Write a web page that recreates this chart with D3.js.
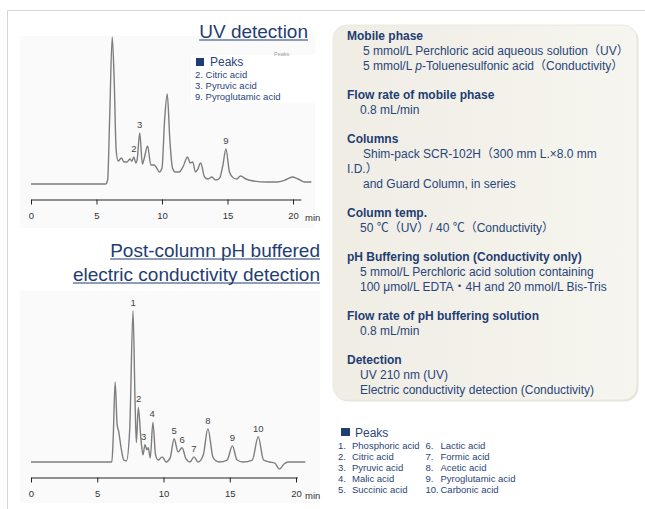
<!DOCTYPE html>
<html><head><meta charset="utf-8">
<script src="https://cdn.jsdelivr.net/npm/d3@7"></script>
<style>
html,body{margin:0;padding:0;background:#fff;}
svg{display:block;font-family:"Liberation Sans",Arial,"Noto Sans CJK JP",sans-serif;}
</style></head>
<body>
<svg id="c" width="645" height="509"></svg>
<script>
// ---------- DATA ----------
const xTicks = [0, 5, 10, 15, 20];

// UV detection trace (time in min, relative signal)
const uvTime   = [0, 5.7, 5.85, 6.0, 6.2, 6.35, 6.5, 6.65, 6.9, 7.1, 7.35, 7.55, 7.7, 7.85, 8.0, 8.1, 8.3, 8.5, 8.65, 8.9, 9.15, 9.4, 9.55, 9.8, 10.0, 10.2, 10.4, 10.6, 10.8, 11.0, 11.3, 11.6, 11.95, 12.15, 12.35, 12.55, 12.7, 12.95, 13.25, 13.5, 13.8, 14.1, 14.4, 14.65, 14.88, 15.15, 15.45, 15.7, 16.0, 16.4, 17.0, 18.0, 18.8, 19.4, 19.95, 20.4, 20.9, 21.4];
const uvSignal = [0, 0, 2.7, 43.5, 100, 70.7, 23.1, 15.6, 17.7, 15.0, 15.0, 17.0, 15.6, 18.4, 14.3, 16.3, 34.7, 13.6, 17.7, 25.9, 12.9, 12.9, 11.6, 8.2, 10.9, 43.5, 61.2, 29.9, 10.9, 8.2, 8.2, 11.6, 18.4, 14.3, 15.0, 8.2, 9.5, 14.3, 4.8, 3.4, 4.8, 2.7, 4.1, 12.9, 23.8, 8.2, 4.1, 3.4, 5.4, 3.4, 2.0, 1.4, 1.4, 2.7, 4.8, 3.4, 1.4, 1.4];
const uvPeakLabels = ["2", "3", "9"];
const uvPeakTime   = [7.85, 8.3, 14.88];
const uvPeakSignal = [18.4, 34.7, 23.8];

// Conductivity trace
const cdTime   = [0, 6.1, 6.2, 6.35, 6.5, 6.62, 6.8, 7.0, 7.2, 7.45, 7.7, 7.85, 7.95, 8.1, 8.3, 8.45, 8.6, 8.75, 8.85, 9.0, 9.2, 9.4, 9.6, 9.9, 10.2, 10.5, 10.8, 11.1, 11.4, 11.7, 12.0, 12.3, 12.6, 13.0, 13.35, 13.75, 14.2, 14.8, 15.2, 15.55, 16.0, 16.7, 17.15, 17.55, 18.0, 18.4, 18.75, 19.1, 19.4, 20.7];
const cdSignal = [0, 0, 14.8, 53.0, 24.8, 20.1, 9.4, 1.3, 0.7, 21.5, 100, 41.6, 12.8, 36.2, 14.8, 4.7, 11.4, 8.1, 9.4, 2.7, 26.2, 4.7, 1.3, 3.4, 0, 2.7, 15.4, 6.7, 9.4, 2.0, 0, 3.4, 0, 4.7, 22.1, 2.7, 0, 1.3, 10.7, 1.3, 0, 1.3, 16.8, 1.3, 0, -0.7, -4.7, -1.3, 0, 0];
const cdPeakLabels = ["1", "2", "3", "4", "5", "6", "7", "8", "9", "10"];
const cdPeakTime   = [7.7, 8.13, 8.5, 9.15, 10.8, 11.4, 12.3, 13.35, 15.2, 17.15];
const cdPeakSignal = [100, 36.2, 11.4, 26.2, 15.4, 9.4, 3.4, 22.1, 10.7, 16.8];

// Legends
const uvLegendItems = ["2. Citric acid", "3. Pyruvic acid", "9. Pyroglutamic acid"];
const cdLegendNums  = ["1.", "2.", "3.", "4.", "5.", "6.", "7.", "8.", "9.", "10."];
const cdLegendNames = ["Phosphoric acid", "Citric acid", "Pyruvic acid", "Malic acid", "Succinic acid",
                       "Lactic acid", "Formic acid", "Acetic acid", "Pyroglutamic acid", "Carbonic acid"];

// Conditions panel: [heading, lines...]
const conditions = [
  {h: "Mobile phase", lines: [
    {t: [["5 mmol/L Perchloric acid aqueous solution（UV）"]], ind: 16},
    {t: [["5 mmol/L "], ["p", "italic"], ["-Toluenesulfonic acid（Conductivity）"]], ind: 16}]},
  {h: "Flow rate of mobile phase", lines: [{t: [["0.8 mL/min"]], ind: 13}]},
  {h: "Columns", lines: [
    {t: [["Shim-pack SCR-102H（300 mm L.×8.0 mm"]], ind: 16},
    {t: [["I.D.）"]], ind: 0},
    {t: [["and Guard Column, in series"]], ind: 16}]},
  {h: "Column temp.", lines: [{t: [["50 ℃（UV）/ 40 ℃（Conductivity）"]], ind: 13}]},
  {h: "pH Buffering solution (Conductivity only)", lines: [
    {t: [["5 mmol/L Perchloric acid solution containing"]], ind: 13},
    {t: [["100 μmol/L EDTA・4H and 20 mmol/L Bis-Tris"]], ind: 13}]},
  {h: "Flow rate of pH buffering solution", lines: [{t: [["0.8 mL/min"]], ind: 13}]},
  {h: "Detection", lines: [
    {t: [["UV 210 nm (UV)"]], ind: 13},
    {t: [["Electric conductivity detection (Conductivity)"]], ind: 13}]}
];

// ---------- DRAW ----------
const svg = d3.select("#c");
const navy = "#1f3d72";
const textBlue = "#29457a";

// outer frame
svg.append("path").attr("d", "M7.5,509 L7.5,10.5 L645,10.5").attr("fill", "none").attr("stroke", "#d6d6d6");

// chart image backgrounds
svg.append("rect").attr("x", 20).attr("y", 36).attr("width", 295).attr("height", 192).attr("fill", "#fafafa");
svg.append("rect").attr("x", 20).attr("y", 291).attr("width", 300).attr("height", 212).attr("fill", "#fafafa");
svg.append("rect").attr("x", 191).attr("y", 55).attr("width", 139).attr("height", 48).attr("fill", "#ffffff");

function chart(cfg) {
  const x = d3.scaleLinear().domain([0, cfg.xMax]).range([31, 31 + cfg.pxPerMin * cfg.xMax]);
  const y = d3.scaleLinear().domain([0, 100]).range([cfg.base, cfg.top]);
  const line = d3.line().x((d, i) => x(cfg.time[i])).y(d => y(d)).curve(d3.curveMonotoneX);
  svg.append("path").datum(cfg.signal).attr("d", line)
    .attr("fill", "none").attr("stroke", "#7e7e7e").attr("stroke-width", 1.4).attr("stroke-linejoin", "round");

  const ax = svg.append("g").attr("transform", `translate(0,${cfg.axisY})`)
    .call(d3.axisBottom(x).tickValues(xTicks).tickSize(5).tickPadding(8).tickSizeOuter(0));
  ax.select(".domain").attr("stroke", "#222");
  ax.selectAll(".tick line").attr("stroke", "#222");
  ax.selectAll(".tick text").attr("font-size", 9.5).attr("fill", "#333")
    .attr("font-family", "'Liberation Sans',Arial,sans-serif");
  svg.append("text").attr("x", 305).attr("y", cfg.axisY + 21).attr("font-size", 9.5).attr("fill", "#333").text("min");

  svg.selectAll(null).data(cfg.labels).enter().append("text")
    .attr("x", (d, i) => x(cfg.peakTime[i]))
    .attr("y", (d, i) => y(cfg.peakSignal[i]) - 5)
    .attr("text-anchor", "middle").attr("font-size", 9.5).attr("fill", "#444")
    .text(d => d);
}

chart({time: uvTime, signal: uvSignal, xMax: 20.6, pxPerMin: 13.1, base: 184, top: 37, axisY: 199.5,
       labels: uvPeakLabels, peakTime: uvPeakTime, peakSignal: uvPeakSignal});
chart({time: cdTime, signal: cdSignal, xMax: 20.1, pxPerMin: 13.25, base: 462, top: 311, axisY: 477.5,
       labels: cdPeakLabels, peakTime: cdPeakTime, peakSignal: cdPeakSignal});

// titles with underline
function title(txt, xr, yb) {
  const t = svg.append("text").attr("x", xr).attr("y", yb).attr("text-anchor", "end")
    .attr("font-size", 19).attr("fill", navy).text(txt);
  const w = t.node().getComputedTextLength();
  svg.append("line").attr("x1", xr - w).attr("x2", xr).attr("y1", yb + 2.5).attr("y2", yb + 2.5)
    .attr("stroke", navy).attr("stroke-width", 1);
}
title("UV detection", 308, 37.5);
title("Post-column pH buffered", 320, 256.5);
title("electric conductivity detection", 320, 280.5);

// UV legend
svg.append("rect").attr("x", 196).attr("y", 58).attr("width", 8).attr("height", 8).attr("fill", navy);
svg.append("text").attr("x", 210).attr("y", 66).attr("font-size", 12).attr("fill", textBlue).text("Peaks");
svg.append("text").attr("x", 274).attr("y", 56).attr("font-size", 5.5).attr("fill", "#9a9a9a").text("Peaks");
svg.selectAll(null).data(uvLegendItems).enter().append("text")
  .attr("x", 195).attr("y", (d, i) => 77.5 + i * 11.3)
  .attr("font-size", 9.5).attr("fill", textBlue).text(d => d);

// Conditions panel
const defs = svg.append("defs");
const g = defs.append("linearGradient").attr("id", "bg").attr("x1", "0").attr("x2", "1").attr("y1", "0").attr("y2", "0");
g.append("stop").attr("offset", "0").attr("stop-color", "#efede4");
g.append("stop").attr("offset", "1").attr("stop-color", "#f6f5ef");
svg.append("rect").attr("x", 334.5).attr("y", 26.5).attr("width", 304).attr("height", 375).attr("rx", 14)
  .attr("fill", "#e7e4da");
svg.append("rect").attr("x", 333).attr("y", 25).attr("width", 304).attr("height", 375).attr("rx", 14)
  .attr("fill", "url(#bg)").attr("stroke", "#ebe8de");

let yy = 39.5;
conditions.forEach((grp, gi) => {
  if (gi > 0) yy += 29;
  svg.append("text").attr("x", 347).attr("y", yy).attr("font-size", 12).attr("font-weight", "bold")
    .attr("fill", navy).text(grp.h);
  grp.lines.forEach(ln => {
    yy += 15;
    const t = svg.append("text").attr("x", 347 + ln.ind).attr("y", yy).attr("font-size", 12).attr("fill", textBlue);
    ln.t.forEach(part => {
      const ts = t.append("tspan").text(part[0]);
      if (part[1]) ts.attr("font-style", part[1]);
    });
  });
});

// Conductivity legend
svg.append("rect").attr("x", 341).attr("y", 428).attr("width", 9).attr("height", 8).attr("fill", navy);
svg.append("text").attr("x", 355).attr("y", 436.5).attr("font-size", 12).attr("fill", textBlue).text("Peaks");
cdLegendNames.forEach((nm, i) => {
  const col = Math.floor(i / 5), row = i % 5;
  const bx = col === 0 ? 338 : 425.5;
  const nx = col === 0 ? 352 : 440.5;
  const by = 448.5 + row * 11.2;
  svg.append("text").attr("x", bx).attr("y", by).attr("font-size", 9.5).attr("fill", textBlue).text(cdLegendNums[i]);
  svg.append("text").attr("x", nx).attr("y", by).attr("font-size", 9.5).attr("fill", textBlue).text(nm);
});
</script>
</body></html>
